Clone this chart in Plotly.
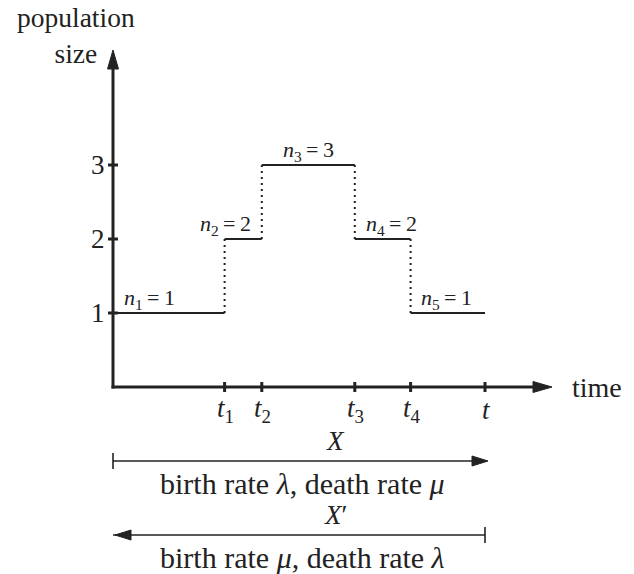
import plotly.graph_objects as go

# ---------------- data ----------------
change_times = [0, 3, 4, 6.5, 8, 10]          # 0, t1, t2, t3, t4, t
pop_sizes = [1, 2, 3, 2, 1]                    # n1..n5
state_names = ["1", "2", "3", "4", "5"]
y_tick_values = [1, 2, 3]
y_tick_labels = ["1", "2", "3"]
x_tick_values = [3, 4, 6.5, 8, 10]
x_tick_labels = ["<i>t</i><sub>1</sub>", "<i>t</i><sub>2</sub>", "<i>t</i><sub>3</sub>",
                 "<i>t</i><sub>4</sub>", "<i>t</i>"]

# ---------------- style / geometry ----------------
W, H = 634, 574
X0_PX, Y0_PX = 113, 387          # pixel of data origin
PX_X, PX_Y = 37.2, 74.0          # pixels per data unit
INK = "#222222"
FONT = "'Liberation Serif', 'DejaVu Serif', serif"

def xd(px):
    return (px - X0_PX) / PX_X

def yd(py):
    return (Y0_PX - py) / PX_Y

def ddx(px):
    return px / PX_X

def ddy(py):
    return py / PX_Y

xr = [xd(0), xd(W)]
yr = [yd(H), yd(0)]

fig = go.Figure()
shapes = []
annotations = []

# step segments
for i, n in enumerate(pop_sizes):
    fig.add_trace(go.Scatter(x=[change_times[i], change_times[i + 1]], y=[n, n],
                             mode="lines", line=dict(color=INK, width=2),
                             hoverinfo="skip", showlegend=False))
# dotted jumps
for i in range(1, len(pop_sizes)):
    fig.add_trace(go.Scatter(x=[change_times[i], change_times[i]],
                             y=[pop_sizes[i - 1], pop_sizes[i]],
                             mode="lines", line=dict(color=INK, width=2, dash="2px,4px"),
                             hoverinfo="skip", showlegend=False))

# axes
x_tip = xd(552)
y_tip = yd(50)
head_len, head_half = 19, 5.5
shapes.append(dict(type="line", xref="x", yref="y", x0=0, y0=-ddy(1.5), x1=0,
                   y1=y_tip - ddy(head_len - 2), line=dict(color=INK, width=3)))
shapes.append(dict(type="line", xref="x", yref="y", x0=-ddx(1.5), y0=0,
                   x1=x_tip - ddx(head_len - 2), y1=0, line=dict(color=INK, width=3)))

def tri(tip_x, tip_y, direction, length, half):
    if direction == "up":
        pts = [(tip_x, tip_y), (tip_x - ddx(half), tip_y - ddy(length)),
               (tip_x + ddx(half), tip_y - ddy(length))]
    elif direction == "right":
        pts = [(tip_x, tip_y), (tip_x - ddx(length), tip_y + ddy(half)),
               (tip_x - ddx(length), tip_y - ddy(half))]
    else:
        pts = [(tip_x, tip_y), (tip_x + ddx(length), tip_y + ddy(half)),
               (tip_x + ddx(length), tip_y - ddy(half))]
    path = "M " + " L ".join(f"{a},{b}" for a, b in pts) + " Z"
    return dict(type="path", xref="x", yref="y", path=path,
                fillcolor=INK, line=dict(color=INK, width=1))

shapes.append(tri(0, y_tip, "up", head_len, head_half))
shapes.append(tri(x_tip, 0, "right", head_len, head_half))

# y ticks
for v, lab in zip(y_tick_values, y_tick_labels):
    shapes.append(dict(type="line", xref="x", yref="y", x0=-ddx(5), x1=ddx(5), y0=v, y1=v,
                       line=dict(color=INK, width=3)))
    annotations.append(dict(x=xd(97.5), y=v, text=lab, showarrow=False, xanchor="center",
                            yanchor="middle", font=dict(family=FONT, size=27, color=INK)))
# x ticks
for v, lab in zip(x_tick_values, x_tick_labels):
    shapes.append(dict(type="line", xref="x", yref="y", x0=v, x1=v, y0=-ddy(5), y1=ddy(5),
                       line=dict(color=INK, width=3)))
    annotations.append(dict(x=v + ddx(1), y=-ddy(23), text=lab, showarrow=False,
                            xanchor="center", yanchor="middle",
                            font=dict(family=FONT, size=27, color=INK)))

# state labels
label_dx_px = [-19, -18, 0, 9, -1]
for i, (n, name) in enumerate(zip(pop_sizes, state_names)):
    mid = (change_times[i] + change_times[i + 1]) / 2
    annotations.append(dict(x=mid + ddx(label_dx_px[i]), y=n + ddy(14),
                            text=f"<i>n</i><sub>{name}</sub>\u2009=\u2009{n}",
                            showarrow=False, xanchor="center", yanchor="middle",
                            font=dict(family=FONT, size=22, color=INK)))

# axis titles
annotations.append(dict(x=xd(570), y=0, text="time", showarrow=False, xanchor="left",
                        yanchor="middle", font=dict(family=FONT, size=28, color=INK)))
annotations.append(dict(x=xd(76), y=yd(35), text="population<br>size", showarrow=False,
                        xanchor="center", yanchor="middle", align="center",
                        font=dict(family=FONT, size=27.5, color=INK)))

# bottom arrows: X (forward) and X' (reverse)
t_end = change_times[-1]
for row, (direction, name, txt) in enumerate([
        ("right", "<i>X</i>", "birth rate <i>λ</i>, death rate <i>μ</i>"),
        ("left", "<i>X</i>\u2032", "birth rate <i>μ</i>, death rate <i>λ</i>")]):
    yy = -1 - row
    shapes.append(dict(type="line", xref="x", yref="y", x0=0, x1=t_end, y0=yy, y1=yy,
                       line=dict(color=INK, width=1.6)))
    if direction == "right":
        bar_x, tip_x = 0, t_end + ddx(3)
    else:
        bar_x, tip_x = t_end, ddx(2)
    shapes.append(dict(type="line", xref="x", yref="y", x0=bar_x, x1=bar_x,
                       y0=yy - ddy(8), y1=yy + ddy(8), line=dict(color=INK, width=1.6)))
    shapes.append(tri(tip_x, yy, direction, 16, 5))
    annotations.append(dict(x=xd(335), y=yy + ddy(20), text=name, showarrow=False,
                            xanchor="center", yanchor="middle",
                            font=dict(family=FONT, size=27, color=INK)))
    annotations.append(dict(x=xd(302), y=yy - ddy(22), text=txt, showarrow=False,
                            xanchor="center", yanchor="middle",
                            font=dict(family=FONT, size=30, color=INK)))

fig.update_layout(
    width=W, height=H, margin=dict(l=0, r=0, t=0, b=0),
    paper_bgcolor="white", plot_bgcolor="white",
    xaxis=dict(range=xr, visible=False, fixedrange=True),
    yaxis=dict(range=yr, visible=False, fixedrange=True),
    shapes=shapes, annotations=annotations, showlegend=False,
)

fig.write_html("out.html", config={"displayModeBar": False},
               post_script="document.body.style.margin='0';document.body.style.overflow='hidden';")
